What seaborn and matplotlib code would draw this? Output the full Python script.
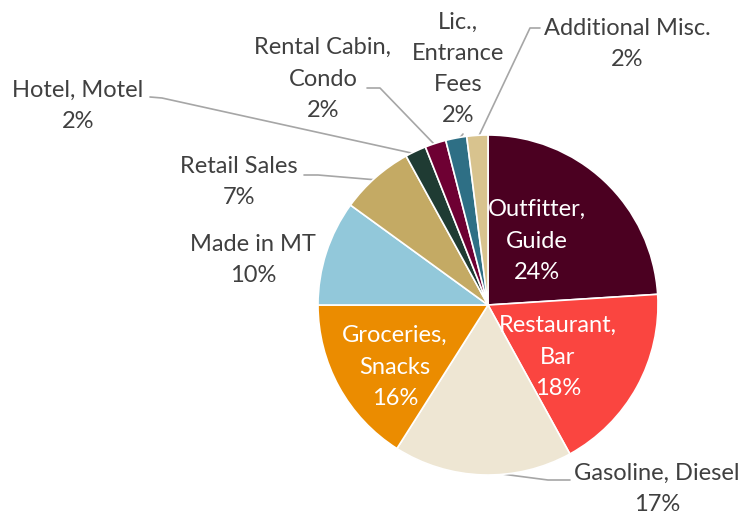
import numpy as np
import matplotlib
matplotlib.use("Agg")
import matplotlib.pyplot as plt
import seaborn as sns

labels = ["Outfitter,\nGuide", "Restaurant,\nBar", "Gasoline, Diesel", "Groceries,\nSnacks",
          "Made in MT", "Retail Sales", "Hotel, Motel", "Rental Cabin,\nCondo",
          "Lic.,\nEntrance\nFees", "Additional Misc."]
shares = [24, 18, 17, 16, 10, 7, 2, 2, 2, 2]
colors = ["#4B0021", "#FA4540", "#EEE6D3", "#EB8C00", "#92C8DA",
          "#C4AA64", "#1F3B33", "#6E0033", "#2E6F85", "#D8C38E"]

sns.set_theme(style="white")
plt.rcParams["font.family"] = ["Lato", "DejaVu Sans"]

W, H = 745, 514
CX, CY, R = 488, 305, 170


def px(x, y):
    # pixel position -> data units (pie radius = 1)
    return (x - CX) / R, (CY - y) / R


fig = plt.figure(figsize=(W / 100, H / 100), dpi=100)
ax = fig.add_axes([0, 0, 1, 1])
wedges, _ = ax.pie(shares, colors=sns.color_palette(colors), startangle=90, counterclock=False,
                   radius=1, wedgeprops=dict(edgecolor="white", linewidth=1.2))
ax.set_xlim(-CX / R, (W - CX) / R)
ax.set_ylim(-(H - CY) / R, CY / R)
ax.set_aspect("auto")
ax.axis("off")

txt = "#404040"
line = "#A6A6A6"
fs = 17

# label position (px), text color, elbow points (px) or None
place = {
    0: ((537, 241), "white", None),
    1: ((558, 357), "white", None),
    2: ((657, 489), txt, [(570, 480), (548, 480)]),
    3: ((395, 367), "white", None),
    4: ((253, 260), txt, None),
    5: ((239, 182), txt, [(304, 175), (318, 175)]),
    6: ((78, 106), txt, [(150, 97), (162, 98)]),
    7: ((323, 79), txt, [(367, 88), (380, 88)]),
    8: ((458, 69), txt, [(463, 134)]),
    9: ((627, 44), txt, [(540, 28), (530, 28)]),
}

for i, w in enumerate(wedges):
    (lx, ly), c, pts = place[i]
    x, y = px(lx, ly)
    ax.text(x, y, f"{labels[i]}\n{shares[i]}%", ha="center", va="center",
            color=c, fontsize=fs, linespacing=1.6)
    if pts:
        ang = np.deg2rad((w.theta1 + w.theta2) / 2)
        ex, ey = 0.98 * np.cos(ang), 0.98 * np.sin(ang)
        xs = [px(*p)[0] for p in pts] + [ex]
        ys = [px(*p)[1] for p in pts] + [ey]
        ax.plot(xs, ys, color=line, lw=1.2, zorder=0)

fig.savefig("out.png", dpi=100)
